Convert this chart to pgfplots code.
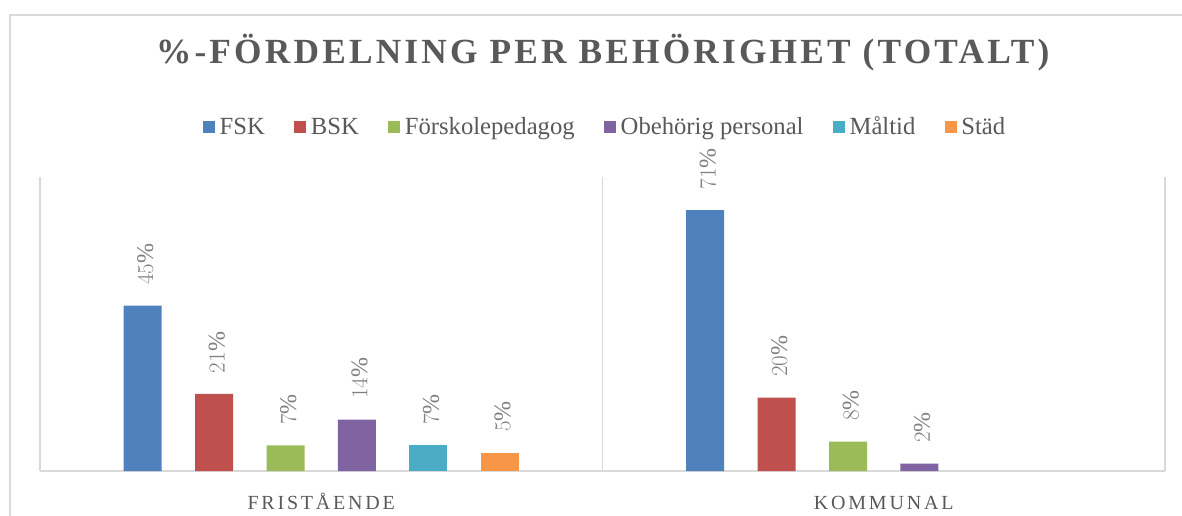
\documentclass[border=0pt]{standalone}
\usepackage{fontspec}
\setmainfont{Liberation Serif}
\usepackage{pgfplots}
\pgfplotsset{compat=1.18}
\definecolor{cFSK}{HTML}{4F81BD}
\definecolor{cBSK}{HTML}{C0504D}
\definecolor{cFP}{HTML}{9BBB59}
\definecolor{cOB}{HTML}{8064A2}
\definecolor{cMT}{HTML}{4BACC6}
\definecolor{cST}{HTML}{F79646}
\definecolor{txt}{HTML}{595959}
\definecolor{lbl}{HTML}{7F7F7F}
\definecolor{gridc}{HTML}{D9D9D9}
\begin{document}
\begin{tikzpicture}
\useasboundingbox (0,0) rectangle (886.5pt,386.25pt);
\draw[gridc, line width=1.1pt] (7.5pt,-5pt) -- (7.5pt,375pt) -- (895pt,375pt);
\node[anchor=base, text=txt, font=\fontsize{26.5}{30}\selectfont\bfseries\addfontfeature{LetterSpace=9}] at (452pt,338.25pt) {\%-FÖRDELNING PER BEHÖRIGHET (TOTALT)};
\begin{axis}[
  at={(30pt,33pt)}, anchor=south west, scale only axis,
  width=843.75pt, height=220.5pt,
  xmin=-0.5, xmax=1.5, ymin=0, ymax=80,
  ybar=25.1pt, bar width=28.5pt,
  hide y axis,
  axis x line*=bottom,
  x axis line style={gridc, line width=1.1pt, -},
  xtick={0,1}, xticklabels={FRISTÅENDE,KOMMUNAL},
  major tick length=0pt,
  xticklabel style={font=\fontsize{15}{15}\selectfont\addfontfeature{LetterSpace=14}, text=txt, anchor=base, yshift=-29pt},
  extra x ticks={-0.5,0.5,1.5}, extra x tick labels={},
  extra x tick style={grid=major, major grid style={gridc, line width=1.1pt}},
  nodes near coords={\pgfmathprintnumber{\pgfplotspointmeta}\%},
  nodes near coords style={rotate=90, anchor=west, font=\fontsize{18}{18}\selectfont, text=lbl, xshift=12pt, yshift=-2pt},
  legend columns=-1,
  legend style={at={(0.502,1.170)}, anchor=center, draw=none, fill=none,
    font=\fontsize{18.5}{20}\selectfont, text=txt,
    /tikz/every even column/.append style={column sep=21pt},
    /tikz/every odd column/.append style={column sep=2.5pt},
    nodes={inner xsep=1pt}},
  legend image code/.code={\fill[#1] (0pt,-4.5pt) rectangle (9pt,4.5pt);},
]
\addplot[fill=cFSK, draw=none] coordinates {(0,45) (1,71)};
\addplot[fill=cBSK, draw=none] coordinates {(0,21) (1,20)};
\addplot[fill=cFP, draw=none] coordinates {(0,7) (1,8)};
\addplot[fill=cOB, draw=none] coordinates {(0,14) (1,2)};
\addplot[fill=cMT, draw=none] coordinates {(0,7)};
\addplot[fill=cST, draw=none] coordinates {(0,5)};
\legend{FSK,BSK,Förskolepedagog,Obehörig personal,Måltid,Städ}
\end{axis}
\end{tikzpicture}
\end{document}
